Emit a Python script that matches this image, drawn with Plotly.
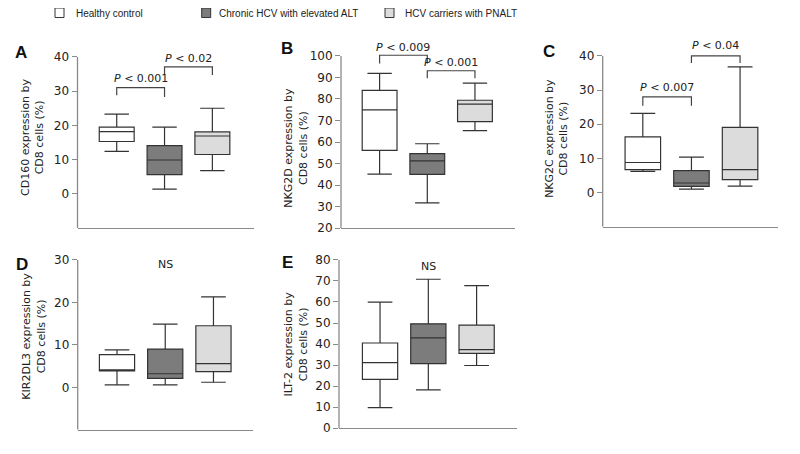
import plotly.graph_objects as go

OFF = 8  # browser body margin
W, H = 800 - 2 * OFF, 454 - 2 * OFF

groups = ["Healthy control", "Chronic HCV with elevated ALT", "HCV carriers with PNALT"]
fills = ["#ffffff", "#7c7c7c", "#dcdcdc"]

# five-number summaries per panel: [lower whisker, Q1, median, Q3, upper whisker] per group
A_stats = [[12.4, 15.3, 18.2, 19.5, 23.3], [1.4, 5.6, 9.9, 14.1, 19.5], [6.8, 11.5, 16.9, 18.1, 25.0]]
B_stats = [[45.1, 56.1, 74.9, 84.0, 91.9], [31.7, 45.0, 51.2, 54.6, 59.2], [65.3, 69.5, 77.6, 79.4, 87.4]]
C_stats = [[6.2, 6.7, 8.8, 16.3, 23.2], [1.0, 1.8, 2.8, 6.4, 10.4], [1.9, 3.8, 6.7, 19.1, 36.8]]
D_stats = [[0.6, 3.9, 3.9, 7.7, 8.8], [0.6, 2.1, 3.2, 9.0, 14.9], [1.2, 3.7, 5.6, 14.5, 21.3]]
E_stats = [[9.8, 23.2, 31.2, 40.5, 59.9], [18.2, 30.7, 42.9, 49.6, 70.8], [29.8, 35.6, 37.3, 49.0, 67.8]]

labels = ["A", "B", "C", "D", "E"]
ytitles = ["CD160 expression by<br>CD8 cells (%)", "NKG2D expression by<br>CD8 cells (%)",
           "NKG2C expression by<br>CD8 cells (%)", "KIR2DL3 expression by<br>CD8 cells (%)",
           "ILT-2 expression by<br>CD8 cells (%)"]
yticks = [[0, 10, 20, 30, 40], list(range(20, 101, 10)), [0, 10, 20, 30, 40], [0, 10, 20, 30], list(range(0, 81, 10))]
yranges = [[-10, 40], [20, 100], [-10, 40], [-10, 30], [0, 80]]

# significance brackets: (group from, group to, bracket level, leg end from, leg end to, label, label level)
A_sig = [(1, 2, 31.0, 28.8, 28.3, "0.001", 33.6), (2, 3, 37.1, 34.7, 34.7, "0.02", 39.6)]
B_sig = [(1, 2, 100.3, 96.5, 96.5, "0.009", 103.9), (2, 3, 93.1, 89.6, 89.6, "0.001", 96.9)]
C_sig = [(1, 2, 28.0, 25.4, 25.4, "0.007", 30.7), (2, 3, 40.0, 37.9, 37.9, "0.04", 43.0)]
D_sig = []
E_sig = []
ns_text = [None, None, None, "NS", "NS"]

all_stats = [A_stats, B_stats, C_stats, D_stats, E_stats]
all_sig = [A_sig, B_sig, C_sig, D_sig, E_sig]

# pixel layout (window coords): (x left, x right, y of top tick, y bottom), x-range
px = [(77.5, 253.5, 57.7, 231.7), (341, 515, 56.7, 231.7), (602.7, 778, 56.7, 230.3),
      (77.7, 253, 264, 436.7), (339, 516.7, 264, 435)]
xr = [[0.18, 3.86], [0.19, 3.84], [0.175, 3.78], [0.185, 3.82], [0.15, 3.83]]
extra = [3, 7, 5, 3, 3]  # headroom above top tick (data units) for brackets
title_pos = [(33, 140), (296, 150), (557, 141), (34, 342), (296, 350)]
letter_pos = [(21.5, 53), (287, 49), (549, 52), (22, 269), (287, 267)]
ns_pos = [None, None, None, (2, 29.0), (2, 77.0)]


def fx(p):
    return (p - OFF) / W


def fy(p):
    return 1 - (p - OFF) / H


fig = go.Figure()
layout = dict(width=W, height=H, margin=dict(l=0, r=0, t=0, b=0),
              plot_bgcolor="white", paper_bgcolor="white", showlegend=False)
shapes = []
annotations = []
font_main = "DejaVu Sans, Verdana, sans-serif"
axcol = "#8a8a8a"

for i in range(5):
    n = "" if i == 0 else str(i + 1)
    xa, ya = "x" + n, "y" + n
    xl, xrgt, yt, yb = px[i]
    lo_r, top_tick = yranges[i]
    ppu = (yb - yt) / (top_tick - lo_r)
    ytop_px = yt - extra[i] * ppu
    layout["xaxis" + n] = dict(domain=[fx(xl), fx(xrgt)], range=xr[i], showline=True,
                               linecolor=axcol, linewidth=1.3, showticklabels=False,
                               ticks="", showgrid=False, zeroline=False, anchor=ya, fixedrange=True)
    layout["yaxis" + n] = dict(domain=[fy(yb), fy(ytop_px)], range=[lo_r, top_tick + extra[i]],
                               showline=False, tickvals=yticks[i],
                               ticks="outside", ticklen=5, tickcolor=axcol, tickwidth=1.3,
                               tickfont=dict(family=font_main, size=12, color="#222"),
                               showgrid=False, zeroline=False, anchor=xa, fixedrange=True)
    shapes.append(dict(type="line", xref=xa + " domain", yref=ya, x0=0, x1=0, y0=lo_r, y1=top_tick,
                       line=dict(color=axcol, width=1.3)))
    for g in range(3):
        lo, q1, med, q3, hi = all_stats[i][g]
        fig.add_trace(go.Box(x=[g + 1], q1=[q1], median=[med], q3=[q3], lowerfence=[lo],
                             upperfence=[hi], width=0.73, whiskerwidth=0.7,
                             fillcolor=fills[g], line=dict(color="#333333", width=1.2),
                             xaxis=xa, yaxis=ya, hoverinfo="skip", boxpoints=False))
    for (g1, g2, lev, e1, e2, ptxt, tlev) in all_sig[i]:
        shapes.append(dict(type="path", xref=xa, yref=ya,
                           path=f"M {g1} {e1} L {g1} {lev} L {g2} {lev} L {g2} {e2}",
                           line=dict(color="#444", width=1.2)))
        annotations.append(dict(x=(g1 + g2) / 2, y=tlev, xref=xa, yref=ya,
                                text=f"<i>P</i> &lt; {ptxt}", showarrow=False,
                                font=dict(family=font_main, size=11, color="#222")))
    if ns_text[i]:
        annotations.append(dict(x=ns_pos[i][0], y=ns_pos[i][1], xref=xa, yref=ya, text=ns_text[i],
                                showarrow=False, font=dict(family=font_main, size=11, color="#222")))
    tx, ty = title_pos[i]
    annotations.append(dict(x=fx(tx), y=fy(ty), xref="paper", yref="paper", text=ytitles[i],
                            textangle=-90, showarrow=False, xanchor="center", yanchor="middle",
                            font=dict(family=font_main, size=11, color="#222")))
    lx, ly = letter_pos[i]
    annotations.append(dict(x=fx(lx), y=fy(ly), xref="paper", yref="paper",
                            text=f"<b>{labels[i]}</b>", showarrow=False,
                            xanchor="center", yanchor="middle",
                            font=dict(family="Liberation Sans, Arial, sans-serif", size=17, color="#111")))

# legend
leg_sq = [55, 201.7, 385]
leg_tx = [74, 216.7, 403.3]
for g in range(3):
    shapes.append(dict(type="rect", xref="paper", yref="paper",
                       x0=fx(leg_sq[g]), x1=fx(leg_sq[g] + 9), y0=fy(17.7), y1=fy(8.0),
                       fillcolor=fills[g], line=dict(color="#333", width=1)))
    annotations.append(dict(x=fx(leg_tx[g]), y=fy(13.5), xref="paper", yref="paper",
                            text=groups[g], showarrow=False, xanchor="left", yanchor="middle",
                            font=dict(family="Liberation Sans Narrow, Liberation Sans, Arial, sans-serif",
                                      size=10, color="#222")))

layout["shapes"] = shapes
layout["annotations"] = annotations
fig.update_layout(**layout)
fig.write_html("out.html")
